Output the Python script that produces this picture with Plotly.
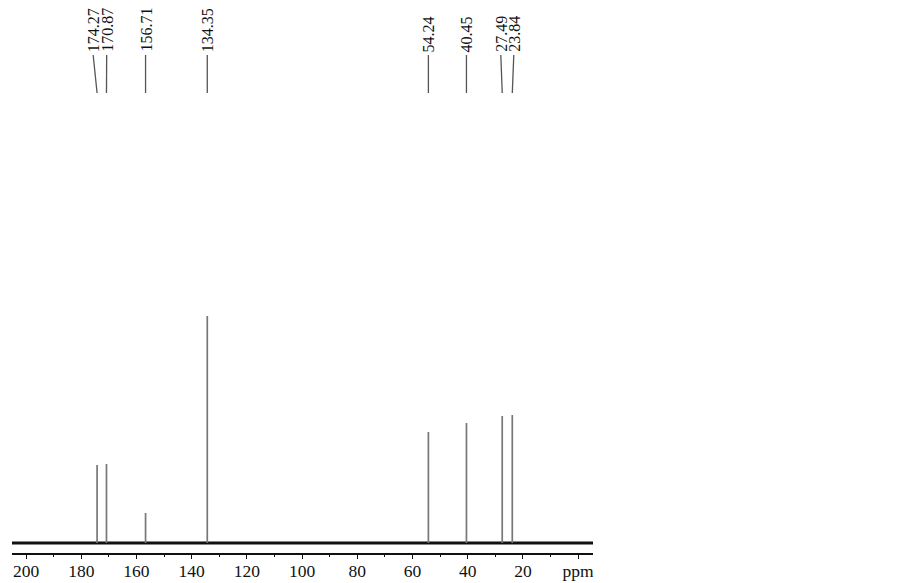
import plotly.graph_objects as go

# ---- data ----
peak_ppm = [174.27, 170.87, 156.71, 134.35, 54.24, 40.45, 27.49, 23.84]
peak_height = [78, 79, 30, 227, 111, 120, 127, 128]
peak_labels = ["174.27", "170.87", "156.71", "134.35", "54.24", "40.45", "27.49", "23.84"]
label_ppm = [175.7, 170.8, 156.71, 134.35, 54.24, 40.45, 28.0, 23.3]
tick_values = [200, 180, 160, 140, 120, 100, 80, 60, 40, 20, 0]
tick_labels = ["200", "180", "160", "140", "120", "100", "80", "60", "40", "20", "ppm"]
x_range = [205.1, -5.4]
baseline_ppm = [205.1, -5.4]
baseline_val = [0, 0]

fig = go.Figure()

# baseline
fig.add_trace(go.Scatter(x=baseline_ppm, y=baseline_val, mode="lines",
                         line=dict(color="#111111", width=2.8),
                         hoverinfo="skip", showlegend=False))

# peaks
xs, ys = [], []
for p, h in zip(peak_ppm, peak_height):
    xs += [p, p, None]
    ys += [0, h, None]
fig.add_trace(go.Scatter(x=xs, y=ys, mode="lines",
                         line=dict(color="#777777", width=1.7),
                         hoverinfo="skip", showlegend=False))

H = 553.0
def py(pix):
    return 1 - pix / H

# label connector lines + labels
for p, lp, t in zip(peak_ppm, label_ppm, peak_labels):
    fig.add_shape(type="line", xref="x", yref="paper",
                  x0=lp, y0=py(55), x1=p, y1=py(93),
                  line=dict(color="#555555", width=1.3))
    fig.add_annotation(x=lp, y=py(54), xref="x", yref="paper",
                       text=t, showarrow=False, textangle=-90,
                       xanchor="center", yanchor="bottom",
                       font=dict(family="Liberation Serif", size=16, color="#111111"))

fig.update_layout(
    width=903, height=583,
    margin=dict(l=12, r=310, t=0, b=30),
    paper_bgcolor="white", plot_bgcolor="white",
    xaxis=dict(range=x_range, tickvals=tick_values, ticktext=tick_labels,
               showgrid=False, zeroline=False, showline=True,
               linecolor="#111111", linewidth=1.5,
               ticks="outside", ticklen=4, tickwidth=1.3, tickcolor="#111111",
               ticklabelstandoff=-3,
               minor=dict(dtick=10, ticks="outside", ticklen=2, tickwidth=1, tickcolor="#111111"),
               tickfont=dict(family="Liberation Serif", size=17.5, color="#111111")),
    yaxis=dict(range=[-10, 543], visible=False, showgrid=False, zeroline=False),
)

fig.write_html("out.html", config={"displayModeBar": False},
               post_script="document.body.style.margin='0';document.body.style.overflow='hidden';")
